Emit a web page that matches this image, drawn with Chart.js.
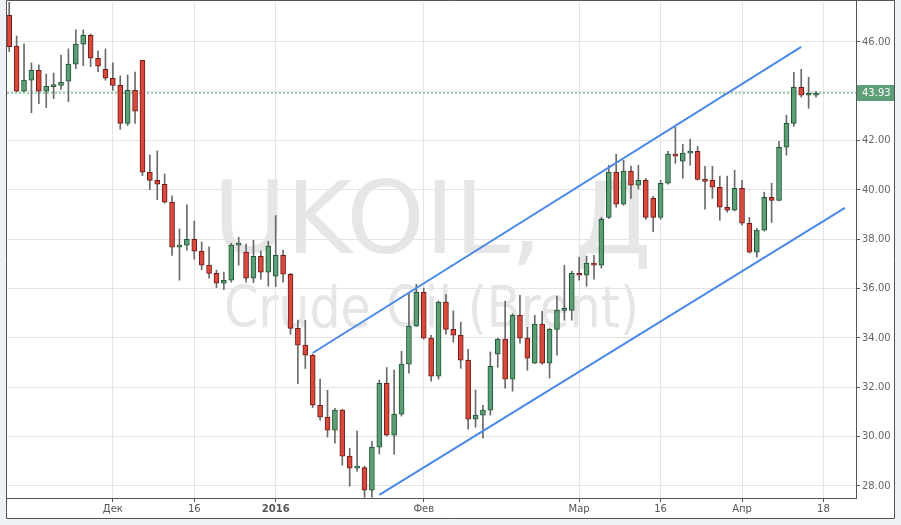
<!DOCTYPE html>
<html>
<head>
<meta charset="utf-8">
<title>UKOIL, Д</title>
<script src="https://cdn.jsdelivr.net/npm/chart.js@4.4.0/dist/chart.umd.min.js"></script>
<style>
  html, body { margin: 0; padding: 0; background: #eef2f7; }
  #wrap { width: 901px; height: 525px; position: relative; }
</style>
</head>
<body>
<div id="wrap"><canvas id="ukoilChart"></canvas></div>
<script>
// trading days, one candle each
var dates = [
  "2015-11-11", "2015-11-12", "2015-11-13", "2015-11-16", "2015-11-17", "2015-11-18", "2015-11-19",
  "2015-11-20", "2015-11-23", "2015-11-24", "2015-11-25", "2015-11-26", "2015-11-27", "2015-11-30",
  "2015-12-01", "2015-12-02", "2015-12-03", "2015-12-04", "2015-12-07", "2015-12-08", "2015-12-09",
  "2015-12-10", "2015-12-11", "2015-12-14", "2015-12-15", "2015-12-16", "2015-12-17", "2015-12-18",
  "2015-12-21", "2015-12-22", "2015-12-23", "2015-12-24", "2015-12-28", "2015-12-29", "2015-12-30",
  "2015-12-31",
  "2016-01-04", "2016-01-05", "2016-01-06", "2016-01-07", "2016-01-08", "2016-01-11", "2016-01-12",
  "2016-01-13", "2016-01-14", "2016-01-15", "2016-01-18", "2016-01-19", "2016-01-20", "2016-01-21",
  "2016-01-22", "2016-01-25", "2016-01-26", "2016-01-27", "2016-01-28", "2016-01-29",
  "2016-02-01", "2016-02-02", "2016-02-03", "2016-02-04", "2016-02-05", "2016-02-08", "2016-02-09",
  "2016-02-10", "2016-02-11", "2016-02-12", "2016-02-15", "2016-02-16", "2016-02-17", "2016-02-18",
  "2016-02-19", "2016-02-22", "2016-02-23", "2016-02-24", "2016-02-25", "2016-02-26", "2016-02-29",
  "2016-03-01", "2016-03-02", "2016-03-03", "2016-03-04", "2016-03-07", "2016-03-08", "2016-03-09",
  "2016-03-10", "2016-03-11", "2016-03-14", "2016-03-15", "2016-03-16", "2016-03-17", "2016-03-18",
  "2016-03-21", "2016-03-22", "2016-03-23", "2016-03-24", "2016-03-28", "2016-03-29", "2016-03-30",
  "2016-03-31",
  "2016-04-01", "2016-04-04", "2016-04-05", "2016-04-06", "2016-04-07", "2016-04-08", "2016-04-11",
  "2016-04-12", "2016-04-13", "2016-04-14", "2016-04-15"
];

var opens = [
  47.08, 45.83, 44.00, 44.45, 44.85, 44.00, 44.19, 44.24, 44.41, 45.10,
  45.91, 46.27, 45.34, 44.89, 44.53, 44.24, 42.70, 44.04, 45.26, 40.72,
  40.39, 40.23, 39.50, 37.68, 37.76, 38.00, 37.52, 36.95, 36.62, 36.22,
  36.34, 37.76, 37.48, 36.42, 37.31, 36.67, 36.50, 37.35, 36.58, 34.39,
  33.71, 33.30, 31.27, 30.79, 30.26, 31.07, 29.21, 28.72, 28.74, 27.83,
  29.57, 32.16, 30.06, 30.91, 32.94, 34.48, 35.85, 33.99, 32.45, 35.45,
  34.35, 34.11, 33.10, 30.71, 30.87, 31.07, 33.34, 33.95, 32.33, 34.92,
  33.99, 32.98, 34.56, 32.98, 34.35, 35.12, 35.12, 36.62, 36.54, 37.03,
  36.95, 38.89, 40.72, 39.42, 40.76, 40.19, 40.39, 39.66, 38.89, 40.27,
  41.45, 41.17, 41.49, 41.57, 40.43, 40.39, 40.11, 39.30, 39.18, 40.07,
  38.65, 37.48, 38.37, 39.70, 39.58, 41.73, 42.70, 44.16, 43.84, 43.84
];
var highs = [
  47.90, 46.24, 45.92, 45.15, 45.07, 44.70, 44.74, 45.47, 45.72, 46.49,
  46.49, 46.32, 45.64, 45.72, 45.15, 44.62, 44.66, 44.78, 45.26, 41.42,
  41.58, 40.65, 39.76, 38.42, 39.40, 38.74, 37.89, 37.69, 36.75, 36.67,
  37.84, 38.08, 37.81, 37.96, 37.52, 37.92, 38.96, 37.56, 36.62, 34.72,
  34.72, 33.34, 32.33, 31.88, 31.15, 31.11, 29.53, 30.22, 28.80, 29.81,
  32.29, 32.80, 32.70, 33.46, 35.81, 36.18, 36.02, 34.11, 35.50, 35.77,
  35.10, 34.64, 33.54, 31.89, 31.27, 33.43, 33.99, 35.49, 34.98, 35.73,
  34.43, 34.92, 35.08, 34.40, 35.70, 36.95, 36.71, 37.27, 37.31, 37.35,
  38.89, 41.00, 41.45, 41.20, 40.97, 41.00, 40.47, 39.74, 40.39, 41.57,
  42.54, 41.85, 42.06, 41.77, 40.96, 40.96, 40.56, 40.56, 40.80, 40.39,
  38.89, 38.45, 39.91, 40.27, 41.97, 43.03, 44.77, 44.89, 44.57, 44.00
];
var lows = [
  45.61, 43.98, 43.98, 43.13, 43.50, 43.34, 43.70, 44.08, 43.58, 44.92,
  45.04, 45.00, 44.80, 44.45, 44.04, 42.46, 42.61, 42.70, 40.58, 40.01,
  39.61, 39.46, 37.35, 36.34, 37.56, 37.19, 36.77, 36.42, 36.04, 35.96,
  36.26, 36.95, 36.26, 36.24, 36.38, 36.10, 36.08, 36.26, 34.15, 32.15,
  32.76, 31.18, 30.67, 29.98, 29.73, 28.84, 27.99, 28.60, 27.54, 27.54,
  29.29, 30.02, 29.29, 30.83, 32.57, 34.46, 33.95, 32.25, 32.33, 34.15,
  33.83, 32.77, 30.30, 30.38, 29.94, 30.87, 32.81, 31.96, 31.84, 33.79,
  32.69, 32.96, 32.94, 32.37, 33.30, 34.72, 34.72, 36.34, 36.10, 36.38,
  36.83, 38.84, 39.30, 39.38, 39.66, 40.03, 38.81, 38.31, 38.81, 40.23,
  41.08, 40.48, 41.00, 40.40, 39.22, 39.66, 38.77, 39.10, 39.15, 38.57,
  37.44, 37.27, 38.33, 38.68, 39.55, 41.41, 42.58, 43.76, 43.31, 43.76
];
var closes = [
  45.81, 44.00, 44.45, 44.85, 44.00, 44.20, 44.24, 44.37, 45.10, 45.91,
  46.27, 45.34, 45.02, 44.53, 44.24, 42.70, 44.04, 43.19, 40.72, 40.39,
  40.23, 39.50, 37.68, 37.76, 38.00, 37.52, 36.95, 36.62, 36.22, 36.34,
  37.76, 37.84, 36.42, 37.31, 36.67, 37.72, 37.35, 36.58, 34.39, 33.71,
  33.30, 31.27, 30.79, 30.26, 31.07, 29.21, 28.72, 28.74, 27.83, 29.57,
  32.16, 30.06, 30.91, 32.94, 34.48, 35.85, 33.99, 32.45, 35.45, 34.35,
  34.11, 33.10, 30.71, 30.87, 31.07, 32.85, 33.95, 32.33, 34.92, 33.99,
  33.18, 34.56, 32.98, 34.35, 35.12, 35.14, 36.62, 36.54, 37.03, 36.95,
  38.81, 40.72, 39.42, 40.76, 40.19, 40.39, 38.89, 38.89, 40.27, 41.45,
  41.37, 41.49, 41.57, 40.43, 40.35, 40.11, 39.30, 39.18, 40.07, 38.65,
  37.48, 38.37, 39.70, 39.58, 41.73, 42.70, 44.16, 43.84, 43.85, 43.93
];

// x ticks: candle index and label
var tickIndex = [14, 25, 36, 56, 77, 88, 99, 110];
var tickLabels = ["Дек", "16", "2016", "Фев", "Мар", "16", "Апр", "18"];
var yTicks = [28, 30, 32, 34, 36, 38, 40, 42, 44, 46];

var lastPrice = 43.93;

// channel lines: [candle index, price]
var upperChannel = [[41, 33.39], [107, 45.80]];
var lowerChannel = [[50, 27.64], [112.9, 39.27]];

var xRange = [-0.3, 114.4];
var yRange = [27.51, 47.62];

function isUp(i) {
  return closes[i] >= opens[i];
}

var bodyData = dates.map(function (d, i) {
  return { x: i, y: [opens[i], closes[i]] };
});
var wickData = dates.map(function (d, i) {
  return { x: i, y: [lows[i], highs[i]] };
});

var frame = {
  id: "frame",
  beforeDraw: function (chart) {
    var ctx = chart.ctx;
    ctx.save();
    ctx.fillStyle = "#eef2f7";
    ctx.fillRect(0, 0, chart.width, chart.height);
    ctx.fillStyle = "#ffffff";
    ctx.fillRect(6, 0, 889, 519);
    ctx.restore();
  },
  beforeDatasetsDraw: function (chart) {
    var ctx = chart.ctx;
    var a = chart.chartArea;
    var cx = (a.left + a.right) / 2;
    ctx.save();
    ctx.fillStyle = "#e6e6e6";
    ctx.textAlign = "center";
    ctx.textBaseline = "alphabetic";
    ctx.font = '100px "DejaVu Sans"';
    ctx.fillText("UKOIL, Д", cx + 1, a.top + (a.bottom - a.top) * 0.506, 445);
    ctx.font = '57px "DejaVu Sans"';
    ctx.fillText("Crude Oil (Brent)", cx, a.top + (a.bottom - a.top) * 0.655, 415);
    ctx.restore();
  },
  afterDraw: function (chart) {
    var ctx = chart.ctx;
    var a = chart.chartArea;
    var y = chart.scales.y.getPixelForValue(lastPrice);
    ctx.save();
    ctx.strokeStyle = "#555555";
    ctx.lineWidth = 1;
    ctx.beginPath();
    ctx.moveTo(6.5, 0.5);
    ctx.lineTo(894.5, 0.5);
    ctx.lineTo(894.5, 518.5);
    ctx.lineTo(6.5, 518.5);
    ctx.closePath();
    ctx.moveTo(a.right + 0.5, 0);
    ctx.lineTo(a.right + 0.5, a.top);
    ctx.stroke();

    ctx.fillStyle = "#5e9f77";
    ctx.fillRect(a.right + 1, Math.round(y) - 8, 894 - a.right - 1, 16);
    ctx.fillStyle = "#ffffff";
    ctx.font = '10px "DejaVu Sans"';
    ctx.textAlign = "left";
    ctx.textBaseline = "middle";
    ctx.fillText(lastPrice.toFixed(2), a.right + 6, Math.round(y) + 0.5);
    ctx.restore();
  }
};

var chart;

function initializeChart() {
  var el = document.getElementById("ukoilChart");
  chart = new Chart(el, {
    type: "bar",
    data: {
      datasets: [
        {
          type: "line",
          label: "upper",
          data: upperChannel.map(function (p) { return { x: p[0], y: p[1] }; }),
          borderColor: "#4a89e8",
          borderWidth: 2,
          pointRadius: 0,
          order: -2
        },
        {
          type: "line",
          label: "lower",
          data: lowerChannel.map(function (p) { return { x: p[0], y: p[1] }; }),
          borderColor: "#4a89e8",
          borderWidth: 2,
          pointRadius: 0,
          order: -2
        },
        {
          type: "bar",
          label: "body",
          data: bodyData,
          backgroundColor: function (c) { return isUp(c.dataIndex) ? "#5c9f76" : "#d8493b"; },
          borderColor: function (c) { return isUp(c.dataIndex) ? "#1f5532" : "#6e1d16"; },
          borderWidth: 1,
          borderSkipped: false,
          barThickness: 5,
          minBarLength: 2,
          grouped: false,
          order: 0
        },
        {
          type: "bar",
          label: "wick",
          data: wickData,
          backgroundColor: "#6a6a6a",
          borderWidth: 0,
          barThickness: 1,
          grouped: false,
          order: 1
        },
        {
          type: "line",
          label: "last",
          data: [{ x: xRange[0], y: lastPrice }, { x: xRange[1], y: lastPrice }],
          borderColor: "#2f9a5a",
          borderWidth: 1,
          borderDash: [2, 2],
          pointRadius: 0,
          order: 2
        }
      ]
    },
    options: {
      responsive: true,
      maintainAspectRatio: false,
      animation: false,
      layout: { padding: { left: 7, right: 7, top: 2, bottom: 7 } },
      plugins: {
        legend: { display: false },
        tooltip: { enabled: false }
      },
      scales: {
        x: {
          type: "linear",
          min: xRange[0],
          max: xRange[1],
          offset: false,
          afterBuildTicks: function (scale) {
            scale.ticks = tickIndex.map(function (v) { return { value: v }; });
          },
          afterFit: function (scale) {
            scale.height = 20;
            scale.paddingLeft = 0;
            scale.paddingRight = 0;
          },
          grid: { color: "#e3e3e3", lineWidth: 1, tickLength: 4, tickColor: "#555555", offset: false },
          border: { color: "#555555", width: 1 },
          ticks: {
            padding: 1,
            color: "#555555",
            autoSkip: false,
            maxRotation: 0,
            font: function (c) {
              return { family: "DejaVu Sans", size: 10, weight: tickLabels[c.index] === "2016" ? "bold" : "normal" };
            },
            callback: function (v, i) { return tickLabels[i]; }
          }
        },
        y: {
          type: "linear",
          position: "right",
          min: yRange[0],
          max: yRange[1],
          afterBuildTicks: function (scale) {
            scale.ticks = yTicks.map(function (v) { return { value: v }; });
          },
          afterFit: function (scale) {
            scale.width = 38;
            scale.paddingTop = 0;
            scale.paddingBottom = 0;
          },
          grid: { color: "#e3e3e3", lineWidth: 1, tickLength: 4, tickColor: "#555555" },
          border: { color: "#555555", width: 1 },
          ticks: {
            padding: 2,
            color: "#666666",
            font: { family: "DejaVu Sans", size: 10 },
            callback: function (v) { return Number(v).toFixed(2); }
          }
        }
      }
    },
    plugins: [frame]
  });
}

window.onload = function () {
  initializeChart();
};
</script>
</body>
</html>
